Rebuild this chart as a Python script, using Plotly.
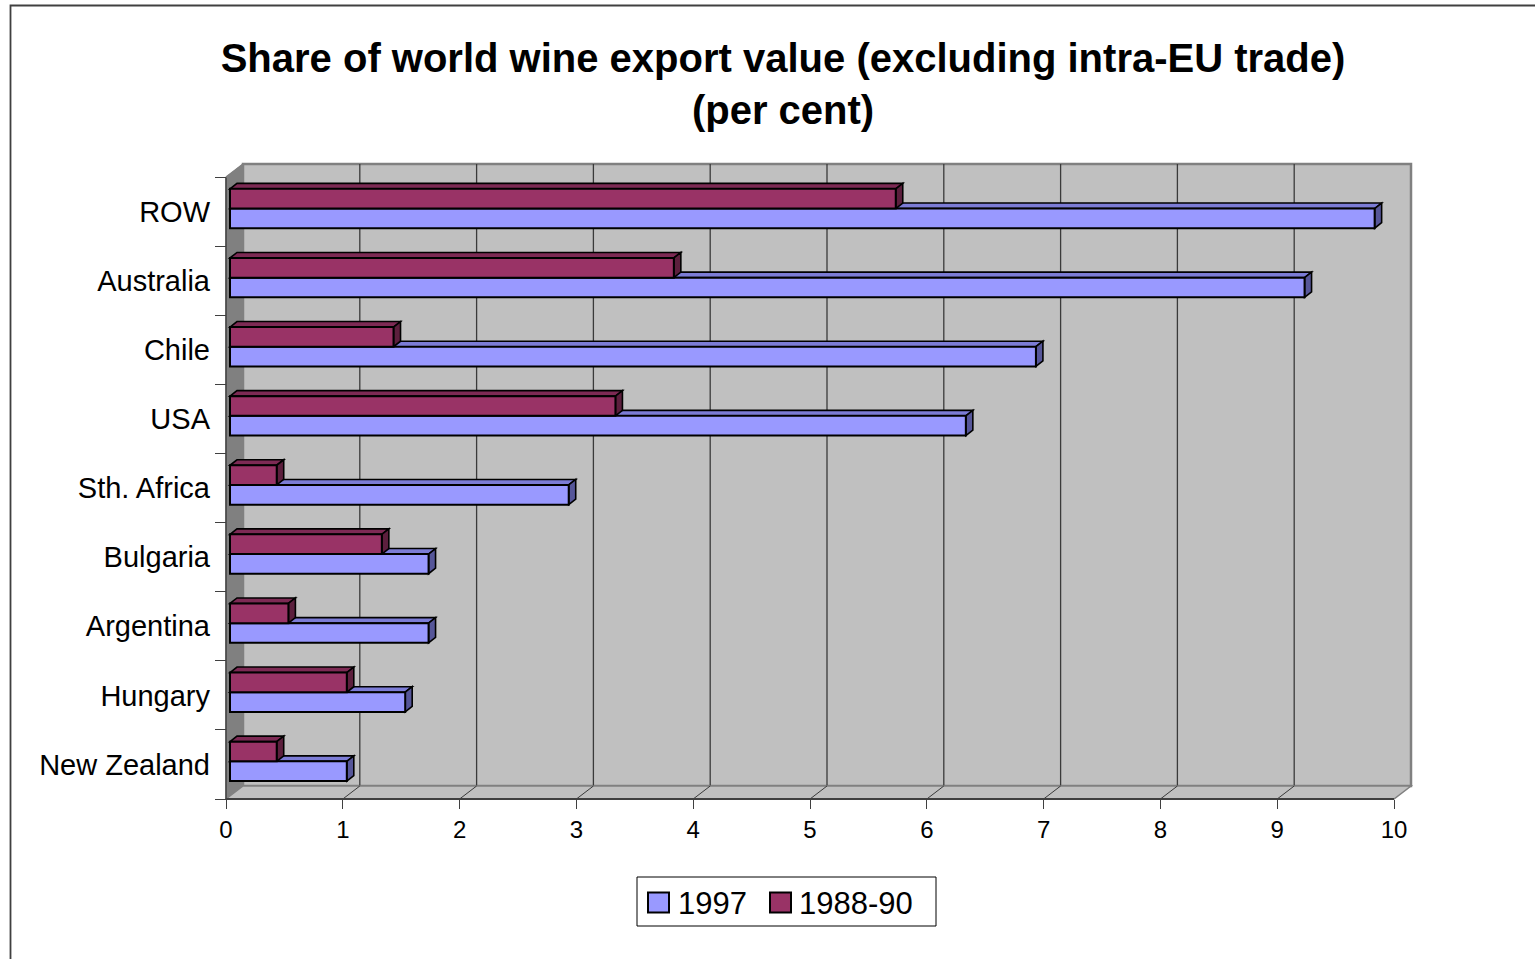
import plotly.graph_objects as go

# ---------------- data ----------------
categories = ["ROW", "Australia", "Chile", "USA", "Sth. Africa",
              "Bulgaria", "Argentina", "Hungary", "New Zealand"]
share_1997 = [9.8, 9.2, 6.9, 6.3, 2.9, 1.7, 1.7, 1.5, 1.0]
share_1988_90 = [5.7, 3.8, 1.4, 3.3, 0.4, 1.3, 0.5, 1.0, 0.4]
x_ticks = [0, 1, 2, 3, 4, 5, 6, 7, 8, 9, 10]
series_names = ["1997", "1988-90"]
title_text = "<b>Share of world wine export value (excluding intra-EU trade)<br>(per cent)</b>"

# ---------------- geometry / styles ----------------
W, H = 1535, 959
X0_PX, PX_PER_X = 226, 116.8       # pixel of x=0 and pixels per unit
YB_PX, PX_PER_CAT = 799, 69.1      # pixel of front bottom and pixels per category
L, R, T, B = 214, 1424, 154, 809   # plot-area box in pixels
FONT = "Liberation Sans, Arial, sans-serif"

COL_1997 = "#9999FF"
COL_1997_TOP = "#7C7CD6"
COL_1997_SIDE = "#565699"
COL_8890 = "#993366"
COL_8890_TOP = "#7D2A54"
COL_8890_SIDE = "#5C1F3D"

n = len(categories)
cats_up = categories[::-1]
v97_up = share_1997[::-1]
v88_up = share_1988_90[::-1]
ypos = list(range(n))

x_rng = [(L - X0_PX) / PX_PER_X, (R - X0_PX) / PX_PER_X]
y_rng = [-0.5 - (B - YB_PX) / PX_PER_CAT, -0.5 + (YB_PX - T) / PX_PER_CAT]

# wall depth and bar depth (in data units)
DX, DY = 17 / PX_PER_X, 13 / PX_PER_CAT
BDX, BDY = 7 / PX_PER_X, 5.5 / PX_PER_CAT
BAR_BASE = 4 / PX_PER_X
BAR_W = 0.285
OFF_97, OFF_88 = -0.24, 0.045

xmax = x_ticks[-1]
y0f, y1f = -0.5, n - 0.5


def pxx(p):
    return (p - L) / (R - L)


def pxy(p):
    return (B - p) / (B - T)


shapes = []


def poly(pts, fill, line_col, lw, ref="data", layer="below"):
    path = "M " + " L ".join(f"{a},{b}" for a, b in pts) + " Z"
    d = dict(type="path", path=path, fillcolor=fill, layer=layer,
             line=dict(color=line_col, width=lw))
    if ref == "paper":
        d.update(xref="paper", yref="paper")
    else:
        d.update(xref="x", yref="y")
    shapes.append(d)


def seg(x0, y0, x1, y1, col, lw, layer="below"):
    shapes.append(dict(type="line", xref="x", yref="y", x0=x0, y0=y0, x1=x1, y1=y1,
                       layer=layer, line=dict(color=col, width=lw)))


# back wall
poly([(DX, y0f + DY), (xmax + DX, y0f + DY), (xmax + DX, y1f + DY), (DX, y1f + DY)],
     "#C0C0C0", "#808080", 2.5)
# gridlines on back wall
for k in x_ticks[1:-1]:
    seg(k + DX, y0f + DY, k + DX, y1f + DY, "#3A3A3A", 1.3)
# left wall
poly([(0, y0f), (0, y1f), (DX, y1f + DY), (DX, y0f + DY)], "#808080", "#808080", 1)
# floor
poly([(0, y0f), (xmax, y0f), (xmax + DX, y0f + DY), (DX, y0f + DY)], "#C0C0C0", "#808080", 1.5)
# floor diagonals at tick positions
for k in x_ticks[1:-1]:
    seg(k, y0f, k + DX, y0f + DY, "#3A3A3A", 1)
# front edges
seg(0, y0f, xmax, y0f, "#404040", 2)
seg(0, y0f, 0, y1f, "#404040", 1.5)
seg(0, y1f, DX, y1f + DY, "#808080", 1.5)

# 3D faces of the bars (top and end faces)
for i in ypos:
    for val, off, ctop, cside in ((v97_up[i], OFF_97, COL_1997_TOP, COL_1997_SIDE),
                                  (v88_up[i], OFF_88, COL_8890_TOP, COL_8890_SIDE)):
        b = BAR_BASE
        e = BAR_BASE + val
        bot = i + off
        top = i + off + BAR_W
        poly([(b, top), (b + BDX, top + BDY), (e + BDX, top + BDY), (e, top)], ctop, "black", 1.6)
        poly([(e, bot), (e, top), (e + BDX, top + BDY), (e + BDX, bot + BDY)], cside, "black", 1.6)

# outer chart border
shapes.append(dict(type="rect", xref="paper", yref="paper",
                   x0=pxx(10.5), x1=pxx(1545), y0=pxy(970), y1=pxy(5.5),
                   line=dict(color="#404040", width=1.8), layer="above"))
# legend box + keys
shapes.append(dict(type="rect", xref="paper", yref="paper",
                   x0=pxx(637), x1=pxx(936), y0=pxy(926), y1=pxy(877),
                   line=dict(color="#000000", width=1), fillcolor="white", layer="above"))
for (xa, col) in ((648, COL_1997), (770, COL_8890)):
    shapes.append(dict(type="rect", xref="paper", yref="paper",
                       x0=pxx(xa), x1=pxx(xa + 21), y0=pxy(912.5), y1=pxy(892.5),
                       line=dict(color="#000000", width=2), fillcolor=col, layer="above"))

annotations = [
    dict(text=series_names[0], xref="paper", yref="paper", x=pxx(676), y=pxy(903),
         xanchor="left", yanchor="middle", showarrow=False,
         font=dict(family=FONT, size=31, color="black")),
    dict(text=series_names[1], xref="paper", yref="paper", x=pxx(797), y=pxy(903),
         xanchor="left", yanchor="middle", showarrow=False,
         font=dict(family=FONT, size=31, color="black")),
]

fig = go.Figure()
fig.add_trace(go.Bar(orientation="h", name=series_names[0], x=v97_up, y=ypos,
                     base=BAR_BASE, width=BAR_W, offset=OFF_97,
                     marker=dict(color=COL_1997, line=dict(color="black", width=2)),
                     customdata=cats_up, hovertemplate="%{customdata}: %{x}<extra>1997</extra>"))
fig.add_trace(go.Bar(orientation="h", name=series_names[1], x=v88_up, y=ypos,
                     base=BAR_BASE, width=BAR_W, offset=OFF_88,
                     marker=dict(color=COL_8890, line=dict(color="black", width=2)),
                     customdata=cats_up, hovertemplate="%{customdata}: %{x}<extra>1988-90</extra>"))

fig.update_layout(
    width=W, height=H, autosize=False,
    margin=dict(l=L, r=W - R, t=T, b=H - B, pad=0),
    paper_bgcolor="white", plot_bgcolor="white",
    barmode="overlay", showlegend=False,
    title=dict(text=title_text, x=783 / W, xanchor="center", xref="container",
               y=1 - 72 / H, yanchor="top", yref="container",
               font=dict(family=FONT, size=40, color="black")),
    shapes=shapes, annotations=annotations,
    font=dict(family=FONT, color="black"),
)
fig.update_xaxes(range=x_rng, tickvals=x_ticks, ticktext=[str(t) for t in x_ticks],
                 showgrid=False, zeroline=False, showline=False,
                 ticks="outside", ticklen=9, tickwidth=1.2, tickcolor="#404040",
                 anchor="free", position=pxy(YB_PX),
                 tickfont=dict(family=FONT, size=24, color="black"))
fig.update_yaxes(range=y_rng, tickvals=ypos, ticktext=cats_up,
                 showgrid=False, zeroline=False, showline=False,
                 ticks="", ticklabelstandoff=16,
                 minor=dict(tickvals=[i - 0.5 for i in ypos] + [n - 0.5], ticks="outside",
                            ticklen=11, tickwidth=1.2, tickcolor="#404040", showgrid=False),
                 anchor="free", position=pxx(X0_PX),
                 tickfont=dict(family=FONT, size=29, color="black"))

fig.write_html("out.html", config={"displayModeBar": False},
               post_script="document.body.style.margin='0';document.body.style.overflow='hidden';")
